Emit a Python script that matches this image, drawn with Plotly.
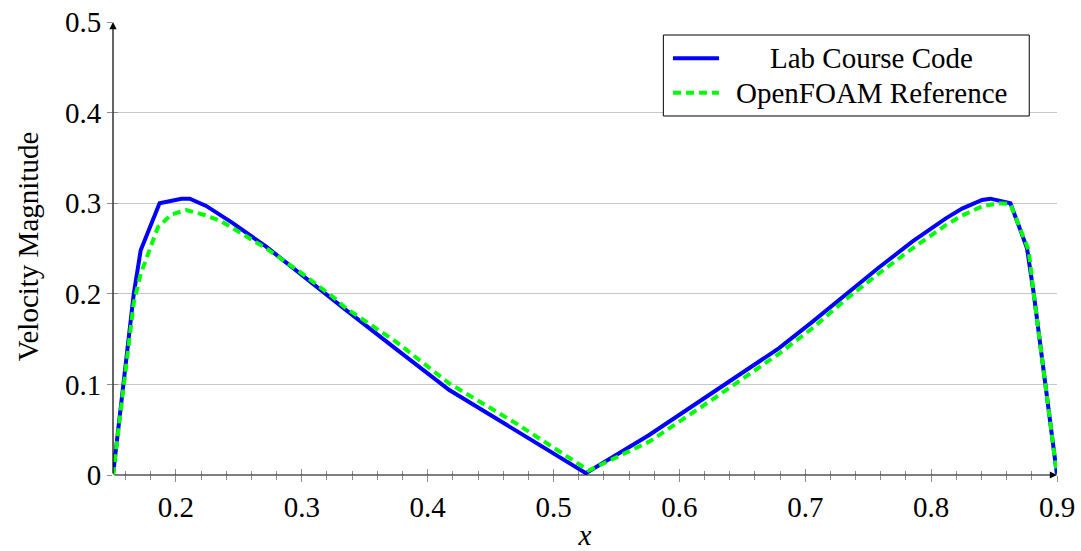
import plotly.graph_objects as go

# Velocity magnitude along the sampling line: in-house solver vs. OpenFOAM
lab_x = [0.15, 0.1665, 0.172, 0.187, 0.2043, 0.211, 0.224, 0.2452, 0.2717, 0.2982,
         0.3246, 0.3352, 0.375, 0.4172, 0.4702, 0.5257, 0.576, 0.627, 0.6792, 0.7056,
         0.732, 0.7585, 0.785, 0.8114, 0.8246, 0.8405, 0.8471, 0.863, 0.8762, 0.8815, 0.9]
lab_y = [0.0, 0.2, 0.248, 0.300, 0.305, 0.305, 0.297, 0.278, 0.252, 0.2226,
         0.193, 0.182, 0.139, 0.0938, 0.049, 0.002, 0.0442, 0.092, 0.140, 0.169,
         0.199, 0.229, 0.2575, 0.283, 0.294, 0.3035, 0.305, 0.300, 0.2502, 0.2005, 0.0]

ref_x = [0.15, 0.1665, 0.172, 0.1778, 0.1857, 0.1963, 0.2083, 0.2228, 0.236, 0.2452,
         0.2717, 0.2982, 0.3246, 0.3352, 0.375, 0.4172, 0.4702, 0.528, 0.576, 0.627,
         0.6792, 0.7056, 0.732, 0.7585, 0.785, 0.8114, 0.8246, 0.8405, 0.8537, 0.863,
         0.8775, 0.8815, 0.9]
ref_y = [0.0, 0.19, 0.222, 0.2446, 0.2735, 0.2875, 0.2925, 0.287, 0.280, 0.2723,
         0.2502, 0.2244, 0.1968, 0.184, 0.147, 0.101, 0.057, 0.005, 0.0368, 0.084,
         0.134, 0.162, 0.1935, 0.2225, 0.250, 0.2755, 0.2865, 0.2965, 0.300, 0.299,
         0.248, 0.200, 0.0]

series_names = ["Lab Course Code", "OpenFOAM Reference"]
x_title = "<i>x</i>"
y_title = "Velocity Magnitude"

x_range = [0.15, 0.9]
y_range = [0.0, 0.5]

FONT = "Liberation Serif"
FS = 29
TICK_GRAY = "#8c8c8c"
BLUE = "#0000ff"
GREEN = "#00ff00"
DASH = "8px,5px"

fig = go.Figure()
fig.add_trace(go.Scatter(
    x=lab_x, y=lab_y, mode="lines", name=series_names[0], showlegend=False,
    line=dict(color=BLUE, width=4),
))
fig.add_trace(go.Scatter(
    x=ref_x, y=ref_y, mode="lines", name=series_names[1], showlegend=False,
    line=dict(color=GREEN, width=4, dash=DASH),
))

# ticks crossing the axis: outside on the primary axes, inside on overlays
fig.update_layout(
    width=1081, height=551,
    margin=dict(l=113, r=24, t=22, b=76),
    paper_bgcolor="white", plot_bgcolor="white",
    font=dict(family=FONT, size=FS, color="black"),
    showlegend=False,
    xaxis=dict(
        range=x_range, tickmode="linear", tick0=0.2, dtick=0.1, automargin=False,
        ticks="outside", ticklen=6, tickwidth=1, tickcolor=TICK_GRAY,
        minor=dict(tickmode="linear", tick0=0.2, dtick=0.02, ticks="outside",
                   ticklen=4, tickwidth=1, tickcolor=TICK_GRAY),
        showgrid=False, zeroline=False, showline=False,
        title=dict(text=x_title, font=dict(family=FONT, size=FS), standoff=4),
        tickfont=dict(family=FONT, size=FS),
    ),
    xaxis2=dict(
        range=x_range, overlaying="x", anchor="y", side="bottom", automargin=False,
        tickmode="linear", tick0=0.2, dtick=0.1,
        ticks="inside", ticklen=6, tickwidth=1, tickcolor=TICK_GRAY,
        minor=dict(tickmode="linear", tick0=0.2, dtick=0.02, ticks="inside",
                   ticklen=4, tickwidth=1, tickcolor=TICK_GRAY),
        showticklabels=False, showgrid=False, zeroline=False, showline=False,
    ),
    yaxis=dict(
        range=y_range, tickmode="linear", tick0=0, dtick=0.1, automargin=False,
        ticks="outside", ticklen=5, tickwidth=1, tickcolor=TICK_GRAY,
        showgrid=True, gridcolor="#c8c8c8", gridwidth=1,
        zeroline=False, showline=False,
        tickfont=dict(family=FONT, size=FS),
    ),
    yaxis2=dict(
        range=y_range, overlaying="y", anchor="x", side="left", automargin=False,
        tickmode="linear", tick0=0, dtick=0.1,
        ticks="inside", ticklen=5, tickwidth=1, tickcolor=TICK_GRAY,
        showticklabels=False, showgrid=False, zeroline=False, showline=False,
    ),
)

# invisible point so the overlay axes are rendered
fig.add_trace(go.Scatter(x=[x_range[0]], y=[y_range[0]], xaxis="x2", yaxis="y2",
                         mode="markers", marker=dict(opacity=0), showlegend=False,
                         hoverinfo="skip"))

# y-axis title placed beside the tick labels
fig.add_annotation(x=-0.09, y=0.505, xref="paper", yref="paper", text=y_title,
                   textangle=-90, showarrow=False, xanchor="center", yanchor="middle",
                   font=dict(family=FONT, size=FS, color="black"))

# axis lines with arrow heads
fig.add_annotation(x=x_range[1], y=0, ax=x_range[0], ay=0, xref="x", yref="y",
                   axref="x", ayref="y", showarrow=True, arrowhead=2, arrowsize=1.2,
                   arrowwidth=1.2, arrowcolor="black", text="")
fig.add_annotation(x=x_range[0], y=y_range[1], ax=x_range[0], ay=0, xref="x", yref="y",
                   axref="x", ayref="y", showarrow=True, arrowhead=2, arrowsize=1.2,
                   arrowwidth=1.2, arrowcolor="black", text="")

# legend box with centred entry labels (paper coordinates of the plot area)
box = dict(x0=0.583, x1=0.9706, y0=0.7925, y1=0.9713)
fig.add_shape(type="rect", xref="paper", yref="paper", **box,
              line=dict(color="black", width=1), fillcolor="white", layer="above")
rows_y = [0.9199, 0.8439]
styles = [dict(color=BLUE, width=4), dict(color=GREEN, width=4, dash=DASH)]
for name, ry, st in zip(series_names, rows_y, styles):
    fig.add_shape(type="line", xref="paper", yref="paper",
                  x0=0.5932, x1=0.6419, y0=ry, y1=ry, line=st, layer="above")
    fig.add_annotation(x=0.803, y=ry, xref="paper", yref="paper", text=name,
                       showarrow=False, xanchor="center", yanchor="middle",
                       font=dict(family=FONT, size=FS, color="black"))

fig.write_html("out.html")
